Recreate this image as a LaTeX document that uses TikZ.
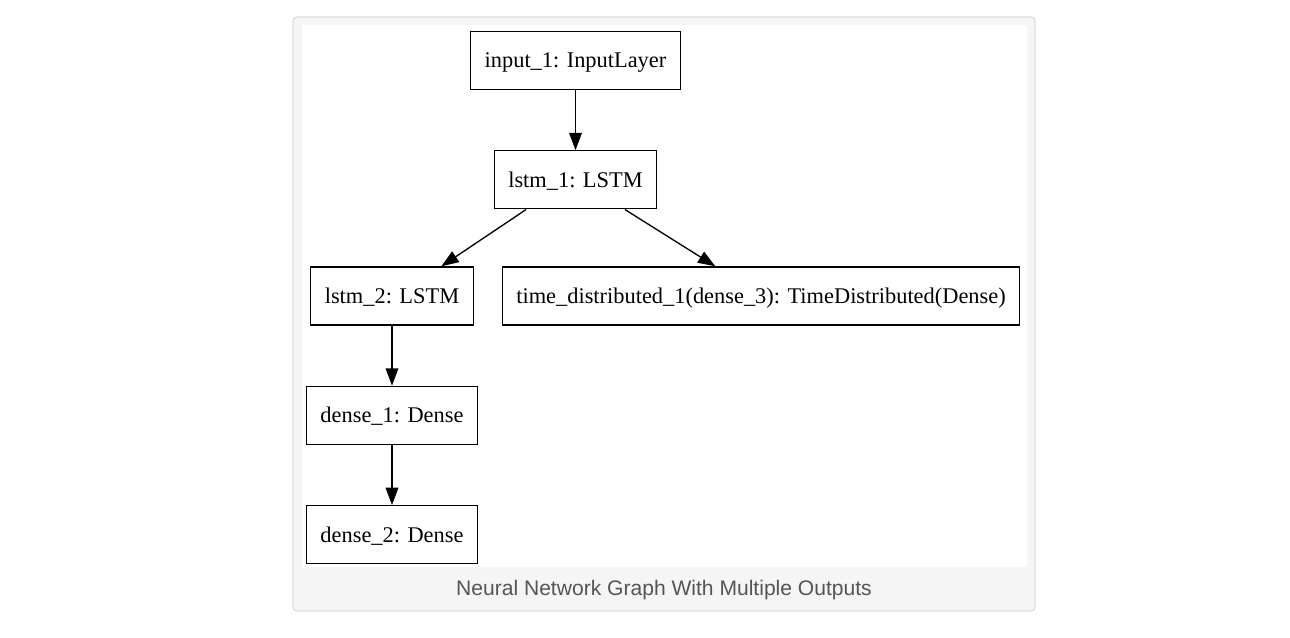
\documentclass[tikz,border=0pt]{standalone}
\usepackage{fontspec}
\setmainfont{Liberation Serif}
\newfontfamily\captionfont{Liberation Sans}
\usepackage{xcolor}
\usepackage{tikz}
\usetikzlibrary{arrows.meta,positioning}
\definecolor{framegray}{HTML}{F5F5F5}
\definecolor{frameline}{HTML}{DDDDDD}
\definecolor{captiongray}{HTML}{555555}

\begin{document}
\begin{tikzpicture}[
		x=0.75pt,y=-0.75pt,
		node distance=45pt,
		box/.style={draw,line width=1pt,minimum height=43.5pt,inner xsep=10.5pt,inner ysep=0pt,text height=11.1pt,text depth=0pt,font=\fontsize{16.8}{20}\selectfont},
		arrow/.style={-{Triangle[length=13pt,width=9.5pt]},line width=1pt}
		]
		\useasboundingbox (0,0) rectangle (1290,638);
		% figure frame
		\filldraw[fill=framegray,draw=frameline,line width=1pt,rounded corners=3pt] (293,17) rectangle (1035,611);
		\fill[white] (302,25) rectangle (1027,567);
		\node[box] (input_1) at (575.5,60.5) {input\_1: InputLayer};
		\node[box,below=of input_1] (lstm_1) {lstm\_1: LSTM};
		\node[box] (lstm_2) at (392,296) {lstm\_2: LSTM};
		\node[box] (time_dist) at (761,296) {time\_distributed\_1(dense\_3): TimeDistributed(Dense)};
		\node[box,below=of lstm_2] (dense_1) {dense\_1: Dense};
		\node[box,below=of dense_1] (dense_2) {dense\_2: Dense};
		\node[font=\captionfont\fontsize{15.8}{18}\selectfont,text=captiongray] (caption) at (664,590) {Neural Network Graph With Multiple Outputs};
		\draw[arrow] (input_1)--(lstm_1);
		\draw[arrow] (lstm_1.211)--(lstm_2.31);
		\draw[arrow] (lstm_1.329)--(time_dist.147);
		\draw[arrow] (lstm_2)--(dense_1);
		\draw[arrow] (dense_1)--(dense_2);
	\end{tikzpicture}
\end{document}
